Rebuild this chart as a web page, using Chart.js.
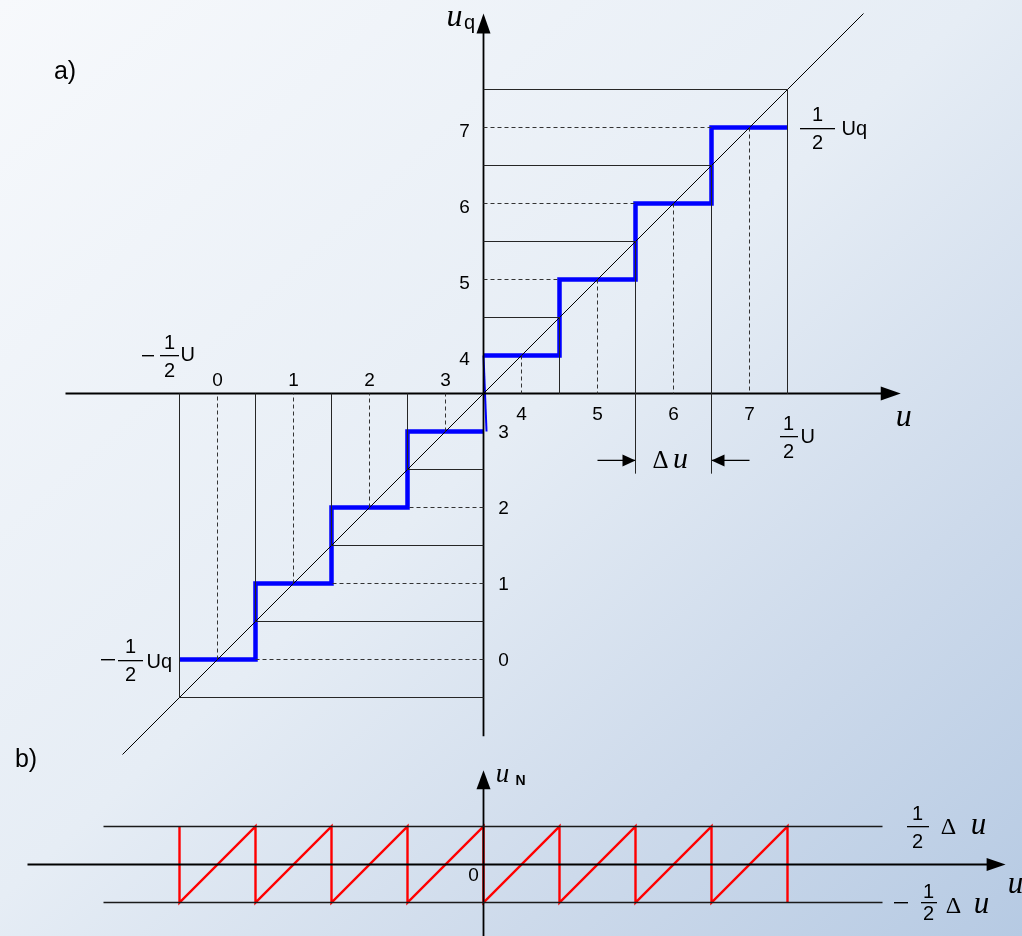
<!DOCTYPE html>
<html>
<head>
<meta charset="utf-8">
<script src="https://cdn.jsdelivr.net/npm/chart.js@4.4.1/dist/chart.umd.min.js"></script>
<style>
  html, body { margin: 0; padding: 0; }
  body {
    width: 1022px; height: 936px; overflow: hidden; position: relative;
    background: linear-gradient(to bottom right, #f7f9fc 0%, #e6edf5 48%, #cddaeb 75%, #b6cae3 100%);
  }
  canvas { position: absolute; left: 0; top: 0; }
</style>
</head>
<body>
<canvas id="chartA" width="1022" height="936"></canvas>
<canvas id="chartB" width="1022" height="936"></canvas>
<script>
// 3-bit quantizer, all values in units of Δu
const codes = ["0", "1", "2", "3", "4", "5", "6", "7"];
const decisionLevels = [-4, -3, -2, -1, 0, 1, 2, 3, 4];
const outputLevels = [-3.5, -2.5, -1.5, -0.5, 0.5, 1.5, 2.5, 3.5];
const zeroJump = [0.5, -0.5];
const zeroJumpU = [0, 0.04];
const idealLine = [-4.75, 5];
const axisU = [-5.5, 5.49];
const axisUq = [-4.51, 5];
const deltaMarks = [2, 3];
const deltaArrowAt = -0.88;
const deltaDrop = -1.05;
// part b: quantization error
const axisUb = [-6, 6.87];
const axisUN = [-0.95, 1.24];
const errorLimit = 0.5;
const limitLinesU = [-5, 5.25];

const W = 1022, H = 936, STEP = 76;
const ORIGIN_X = 483.5, ORIGIN_A = 393.5, ORIGIN_B = 864.5;
const xRange = [-6, 7];

const NUM = '19px "Liberation Sans", Arial, sans-serif';
const LAB = '20px "Liberation Sans", Arial, sans-serif';
const SERIF = '"Liberation Serif", "Times New Roman", serif';
const BLACK = "#000";
const THIN = "#262626";

function pad(yRange, originY) {
  return {
    left: ORIGIN_X + xRange[0] * STEP,
    right: W - (ORIGIN_X + xRange[1] * STEP),
    top: originY - yRange[1] * STEP,
    bottom: H - (originY - yRange[0] * STEP)
  };
}

// list of segments -> one dataset with gaps
function segs(list) {
  const out = [];
  list.forEach(s => {
    out.push({ x: s[0], y: s[1] }, { x: s[2], y: s[3] }, { x: s[2], y: null });
  });
  return out;
}

function line(data, color, width, dash) {
  return {
    data, showLine: true, borderColor: color, borderWidth: width,
    borderDash: dash || [], pointRadius: 0, fill: false, tension: 0,
    spanGaps: false, clip: false, borderJoinStyle: "miter", borderCapStyle: "butt"
  };
}

function txt(ctx, s, x, y, font, align, base) {
  ctx.font = font;
  ctx.textAlign = align || "center";
  ctx.textBaseline = base || "middle";
  ctx.fillText(s, x, y);
}

function minus(ctx, x, y, w) {
  ctx.fillRect(Math.round(x - w / 2), Math.round(y) - 1, w, 1.4);
}

function frac(ctx, x, y, w, gapUp, gapDown, font) {
  ctx.fillRect(Math.round(x - w / 2), Math.round(y) - 1, w, 1.3);
  txt(ctx, "1", x, y - (gapUp || 13), font || LAB);
  txt(ctx, "2", x, y + (gapDown || 15), font || LAB);
}

function arrowHead(ctx, px, py, dir, len, half) {
  const d = { up: [0, -1], right: [1, 0], left: [-1, 0] }[dir];
  const bx = px - d[0] * len, by = py - d[1] * len;
  ctx.beginPath();
  ctx.moveTo(px, py);
  ctx.lineTo(bx - d[1] * half, by + d[0] * half);
  ctx.lineTo(bx + d[1] * half, by - d[0] * half);
  ctx.closePath();
  ctx.fill();
}

// ---- part a datasets ----
const thresholdLines = [];
decisionLevels.filter(d => d !== 0).forEach(d => {
  thresholdLines.push([d, d, 0, d]);   // horizontal to the u_q axis
  thresholdLines.push([d, d, d, 0]);   // vertical to the u axis
});
deltaMarks.forEach(d => thresholdLines.push([d, 0, d, deltaDrop]));

const midLines = [];
outputLevels.forEach(q => {
  midLines.push([q, q, q, 0]);
  const edge = q > 0 ? q - 0.5 : q + 0.5;
  if (edge !== 0) midLines.push([0, q, edge, q]);
});

function stairs(from, to) {
  const pts = [];
  for (let i = from; i < to; i++) {
    pts.push({ x: decisionLevels[i], y: outputLevels[i] });
    pts.push({ x: decisionLevels[i + 1], y: outputLevels[i] });
  }
  return pts;
}

const deltaArrows = [
  [deltaMarks[0] - 0.5, deltaArrowAt, deltaMarks[0], deltaArrowAt],
  [deltaMarks[1] + 0.5, deltaArrowAt, deltaMarks[1], deltaArrowAt]
];

const datasetsA = [
  line(segs(midLines), "#333", 1, [4, 3]),
  line(segs(thresholdLines), THIN, 1),
  line(segs([[idealLine[0], idealLine[0], idealLine[1], idealLine[1]]]), BLACK, 1),
  line(segs(deltaArrows), BLACK, 1.4),
  line(segs([[axisU[0], 0, axisU[1] - 0.2, 0], [0, axisUq[0], 0, axisUq[1] - 0.2]]), BLACK, 1.8),
  line(stairs(0, 4), "#0000ff", 4.5),
  line(stairs(4, 8), "#0000ff", 4.5),
  line(zeroJump.map((v, i) => ({ x: zeroJumpU[i], y: v })), "#0000ff", 2)
];

const decorA = {
  id: "decorA",
  afterDatasetsDraw(chart) {
    const { ctx, scales: { x, y } } = chart;
    const X = v => x.getPixelForValue(v), Y = v => y.getPixelForValue(v);
    ctx.save();
    ctx.fillStyle = BLACK;
    // arrow heads
    arrowHead(ctx, X(axisU[1]), Y(0), "right", 20, 7);
    arrowHead(ctx, X(0), Y(axisUq[1]), "up", 20, 7);
    arrowHead(ctx, X(deltaMarks[0]), Y(deltaArrowAt), "right", 13, 6);
    arrowHead(ctx, X(deltaMarks[1]), Y(deltaArrowAt), "left", 13, 6);

    // code numbers next to the u_q axis and along the u axis
    outputLevels.forEach((q, i) => {
      if (q > 0) {
        txt(ctx, codes[i], X(0) - 19, Y(q) + 4, NUM);
        txt(ctx, codes[i], X(q), Y(0) + 21, NUM);
      } else {
        txt(ctx, codes[i], X(0) + 20, Y(q) + 1, NUM);
        txt(ctx, codes[i], X(q), Y(0) - 13, NUM);
      }
    });

    const lo = decisionLevels[0], hi = decisionLevels[decisionLevels.length - 1];
    const qLo = outputLevels[0], qHi = outputLevels[outputLevels.length - 1];
    // -1/2 U
    minus(ctx, X(lo) - 32, Y(0) - 37, 12);
    frac(ctx, X(lo) - 10, Y(0) - 37, 19);
    txt(ctx, "U", X(lo) + 1, Y(0) - 38, LAB, "left");
    // 1/2 U
    frac(ctx, X(hi) + 1, Y(0) + 44, 18);
    txt(ctx, "U", X(hi) + 13, Y(0) + 44, LAB, "left");
    // 1/2 Uq
    frac(ctx, X(hi) + 30, Y(qHi) + 1, 35);
    txt(ctx, "Uq", X(hi) + 54, Y(qHi) + 2, LAB, "left");
    // -1/2 Uq
    minus(ctx, X(lo) - 72, Y(qLo), 14);
    frac(ctx, X(lo) - 49, Y(qLo) + 1, 25);
    txt(ctx, "Uq", X(lo) - 33, Y(qLo) + 3, LAB, "left");

    // axis names
    txt(ctx, "u", X(0) - 29, Y(axisUq[1]) + 12, "italic 32px " + SERIF, "center", "alphabetic");
    txt(ctx, "q", X(0) - 14, Y(axisUq[1]) + 15, LAB, "center", "alphabetic");
    txt(ctx, "u", X(axisU[1]) + 3, Y(0) + 32, "italic 32px " + SERIF, "center", "alphabetic");
    // Δu
    const mid = (deltaMarks[0] + deltaMarks[1]) / 2;
    txt(ctx, "\u0394", X(mid) - 13, Y(deltaArrowAt) + 8, "25px " + SERIF, "center", "alphabetic");
    txt(ctx, "u", X(mid) + 7, Y(deltaArrowAt) + 8, "italic 30px " + SERIF, "center", "alphabetic");

    txt(ctx, "a)", 65, 72, '25px "Liberation Sans", Arial, sans-serif');
    ctx.restore();
  }
};

// ---- part b datasets ----
const sawtooth = [{ x: decisionLevels[0], y: errorLimit }];
for (let i = 0; i < outputLevels.length; i++) {
  sawtooth.push({ x: decisionLevels[i], y: decisionLevels[i] - outputLevels[i] });
  sawtooth.push({ x: decisionLevels[i + 1], y: decisionLevels[i + 1] - outputLevels[i] });
}
sawtooth.push({ x: decisionLevels[decisionLevels.length - 1], y: -errorLimit });

const datasetsB = [
  line(segs([
    [limitLinesU[0], errorLimit, limitLinesU[1], errorLimit],
    [limitLinesU[0], -errorLimit, limitLinesU[1], -errorLimit]
  ]), "#1a1a1a", 1.5),
  line(segs([[axisUb[0], 0, axisUb[1] - 0.2, 0], [0, axisUN[0], 0, axisUN[1] - 0.2]]), BLACK, 1.8),
  line(sawtooth, "#ff0000", 2.4)
];

const decorB = {
  id: "decorB",
  afterDatasetsDraw(chart) {
    const { ctx, scales: { x, y } } = chart;
    const X = v => x.getPixelForValue(v), Y = v => y.getPixelForValue(v);
    ctx.save();
    ctx.fillStyle = BLACK;
    arrowHead(ctx, X(axisUb[1]), Y(0), "right", 19, 6.5);
    arrowHead(ctx, X(0), Y(axisUN[1]), "up", 19, 7);

    txt(ctx, "0", X(0) - 10, Y(0) + 11, NUM);
    txt(ctx, "u", X(0) + 19, Y(axisUN[1]) + 12, "italic 27px " + SERIF, "center", "alphabetic");
    txt(ctx, "N", X(0) + 37, Y(axisUN[1]) + 15, 'bold 14px "Liberation Sans", Arial, sans-serif', "center", "alphabetic");
    txt(ctx, "u", X(axisUb[1]) + 10, Y(0) + 28, "italic 31px " + SERIF, "center", "alphabetic");

    const e = limitLinesU[1];
    // 1/2 Δu
    frac(ctx, X(e) + 35, Y(errorLimit), 22, 12, 16);
    txt(ctx, "\u0394", X(e) + 66, Y(errorLimit) + 7, "24px " + SERIF, "center", "alphabetic");
    txt(ctx, "u", X(e) + 96, Y(errorLimit) + 7, "italic 31px " + SERIF, "center", "alphabetic");
    // -1/2 Δu
    minus(ctx, X(e) + 18, Y(-errorLimit), 14);
    frac(ctx, X(e) + 46, Y(-errorLimit), 16, 10, 12);
    txt(ctx, "\u0394", X(e) + 71, Y(-errorLimit) + 10, "24px " + SERIF, "center", "alphabetic");
    txt(ctx, "u", X(e) + 99, Y(-errorLimit) + 10, "italic 31px " + SERIF, "center", "alphabetic");

    txt(ctx, "b)", 26, 760, '25px "Liberation Sans", Arial, sans-serif');
    ctx.restore();
  }
};

function build(id, datasets, yRange, originY, plugin) {
  return new Chart(document.getElementById(id), {
    type: "scatter",
    data: { datasets },
    options: {
      responsive: false,
      animation: false,
      events: [],
      layout: { padding: pad(yRange, originY) },
      plugins: { legend: { display: false }, tooltip: { enabled: false } },
      scales: {
        x: { type: "linear", display: false, min: xRange[0], max: xRange[1] },
        y: { type: "linear", display: false, min: yRange[0], max: yRange[1] }
      }
    },
    plugins: [plugin]
  });
}

build("chartA", datasetsA, [-6, 5.1], ORIGIN_A, decorA);
build("chartB", datasetsB, [-0.94, 1.4], ORIGIN_B, decorB);
</script>
</body>
</html>
